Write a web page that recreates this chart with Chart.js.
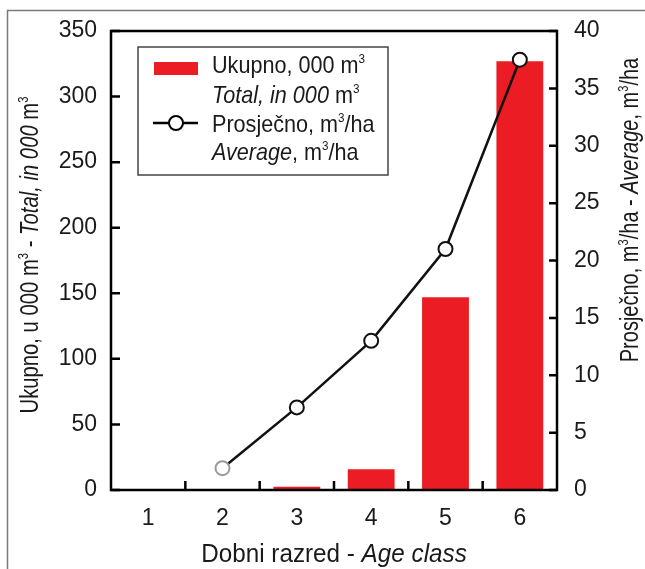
<!DOCTYPE html>
<html>
<head>
<meta charset="utf-8">
<script src="https://cdn.jsdelivr.net/npm/chart.js@4.4.1/dist/chart.umd.min.js"></script>
<style>
  html, body { margin: 0; padding: 0; background: #fff; }
  canvas { display: block; }
</style>
</head>
<body>
<canvas id="chart" width="645" height="569"></canvas>
<script>
// Dobni razred - Age class
const ageClasses = ["1", "2", "3", "4", "5", "6"];
// Ukupno, 000 m3 - Total, in 000 m3
const totalVolume = [0, 0, 2.5, 15.8, 147, 327];
// Prosječno, m3/ha - Average, m3/ha
const averageVolume = [null, 1.9, 7.2, 13.0, 21.0, 37.5];

const leftAxisMax = 350;
const leftAxisStep = 50;
const rightAxisMax = 40;
const rightAxisStep = 5;

const SANS = '"Liberation Sans", Arial, sans-serif';
const INK = "#1a1a1a";
const RED = "#ec1c24";

function fontFor(part, size) {
  const s = part.sup ? Math.round(size * 0.55) : size;
  return (part.it ? "italic " : "") + s + "px " + SANS;
}

// draws mixed normal / italic / superscript text, hs squeezes it horizontally
function drawRich(ctx, parts, x, y, size, align, hs = 1) {
  ctx.save();
  ctx.translate(x, y);
  ctx.scale(hs, 1);
  ctx.textBaseline = "alphabetic";
  ctx.textAlign = "left";
  ctx.fillStyle = INK;
  let w = 0;
  for (const p of parts) {
    ctx.font = fontFor(p, size);
    w += ctx.measureText(p.t).width;
  }
  let cx = align === "center" ? -w / 2 : 0;
  for (const p of parts) {
    ctx.font = fontFor(p, size);
    ctx.fillText(p.t, cx, p.sup ? -size * 0.42 : 0);
    cx += ctx.measureText(p.t).width;
  }
  ctx.restore();
}

const leftTitle = [
  { t: "Ukupno, u 000 m" }, { t: "3", sup: true }, { t: " - " },
  { t: "Total, in 000", it: true }, { t: " m" }, { t: "3", sup: true },
];
const rightTitle = [
  { t: "Prosječno, m" }, { t: "3", sup: true }, { t: "/ha - " },
  { t: "Average", it: true }, { t: ", m" }, { t: "3", sup: true }, { t: "/ha" },
];
const bottomTitle = [{ t: "Dobni razred - " }, { t: "Age class", it: true }];

const legendLines = [
  [{ t: "Ukupno, 000 m" }, { t: "3", sup: true }],
  [{ t: "Total, in 000", it: true }, { t: " m" }, { t: "3", sup: true }],
  [{ t: "Prosječno, m" }, { t: "3", sup: true }, { t: "/ha" }],
  [{ t: "Average", it: true }, { t: ", m" }, { t: "3", sup: true }, { t: "/ha" }],
];

const decorations = {
  id: "decorations",
  beforeDraw(chart) {
    const ctx = chart.ctx;
    ctx.save();
    ctx.fillStyle = "#fff";
    ctx.fillRect(0, 0, chart.width, chart.height);
    ctx.strokeStyle = "#7a7a7a";
    ctx.lineWidth = 1.5;
    ctx.strokeRect(7.5, 10.5, chart.width, chart.height);
    ctx.restore();
  },
  afterDatasetsDraw(chart) {
    const ctx = chart.ctx;
    const ca = chart.chartArea;
    const x = chart.scales.x;
    const y = chart.scales.y;
    const y2 = chart.scales.y2;
    ctx.save();
    ctx.strokeStyle = "#000";
    ctx.lineWidth = 2.5;
    ctx.strokeRect(ca.left, ca.top, ca.right - ca.left, ca.bottom - ca.top);
    ctx.beginPath();
    y.ticks.forEach((t) => {
      const py = y.getPixelForValue(t.value);
      ctx.moveTo(ca.left, py);
      ctx.lineTo(ca.left + 9, py);
    });
    y2.ticks.forEach((t) => {
      const py = y2.getPixelForValue(t.value);
      ctx.moveTo(ca.right, py);
      ctx.lineTo(ca.right - 8, py);
    });
    for (let i = 0; i < ageClasses.length - 1; i++) {
      const px = (x.getPixelForValue(i) + x.getPixelForValue(i + 1)) / 2;
      ctx.moveTo(px, ca.bottom);
      ctx.lineTo(px, ca.bottom - 9);
    }
    ctx.stroke();
    ctx.restore();
  },
  afterDraw(chart) {
    const ctx = chart.ctx;
    const ca = chart.chartArea;

    // axis titles
    drawRich(ctx, bottomTitle, (ca.left + ca.right) / 2, ca.bottom + 72, 25, "center", 0.97);
    ctx.save();
    ctx.translate(38, ca.top + 224);
    ctx.rotate(-Math.PI / 2);
    drawRich(ctx, leftTitle, 0, 0, 25, "center", 0.81);
    ctx.restore();
    ctx.save();
    ctx.translate(638, ca.top + 179);
    ctx.rotate(-Math.PI / 2);
    drawRich(ctx, rightTitle, 0, 0, 25, "center", 0.8);
    ctx.restore();

    // legend
    const bx = ca.left + 27;
    const by = ca.top + 16;
    ctx.save();
    ctx.fillStyle = "#fff";
    ctx.fillRect(bx, by, 250, 128);
    ctx.strokeStyle = "#444";
    ctx.lineWidth = 1.5;
    ctx.strokeRect(bx, by, 250, 128);
    ctx.fillStyle = RED;
    ctx.fillRect(bx + 16, by + 15, 44, 13);
    ctx.strokeStyle = "#000";
    ctx.lineWidth = 2.5;
    ctx.beginPath();
    ctx.moveTo(bx + 15, by + 76);
    ctx.lineTo(bx + 60, by + 76);
    ctx.stroke();
    ctx.fillStyle = "#fff";
    ctx.lineWidth = 2;
    ctx.beginPath();
    ctx.arc(bx + 38, by + 76, 7, 0, Math.PI * 2);
    ctx.fill();
    ctx.stroke();
    ctx.restore();
    const baselines = [26, 56, 85, 113];
    legendLines.forEach((line, i) => {
      drawRich(ctx, line, bx + 74, by + baselines[i], 24, "left", 0.9);
    });
  },
};

new Chart(document.getElementById("chart").getContext("2d"), {
  data: {
    labels: ageClasses,
    datasets: [
      {
        type: "line",
        label: "Prosječno, m3/ha",
        data: averageVolume,
        yAxisID: "y2",
        order: 0,
        borderColor: "#111",
        borderWidth: 2.5,
        pointRadius: 7,
        pointBorderWidth: 2,
        pointBackgroundColor: "#fff",
        pointBorderColor: ["#111", "#9a9a9a", "#111", "#111", "#111", "#111"],
        spanGaps: false,
      },
      {
        type: "bar",
        label: "Ukupno, 000 m3",
        data: totalVolume,
        yAxisID: "y",
        order: 1,
        backgroundColor: RED,
        barPercentage: 0.63,
        categoryPercentage: 1,
      },
    ],
  },
  options: {
    responsive: false,
    animation: false,
    layout: { padding: { top: 31, left: 0, right: 0, bottom: 0 } },
    plugins: {
      legend: { display: false },
      tooltip: { enabled: false },
    },
    scales: {
      x: {
        grid: { display: false, drawTicks: false },
        border: { display: false },
        ticks: { color: INK, font: { family: SANS, size: 23 }, padding: 15 },
        afterFit: (s) => { s.height = 79; },
      },
      y: {
        position: "left",
        min: 0,
        max: leftAxisMax,
        grid: { display: false, drawTicks: false },
        border: { display: false },
        ticks: { stepSize: leftAxisStep, color: INK, font: { family: SANS, size: 23 }, padding: 14 },
        afterFit: (s) => { s.width = 111; },
      },
      y2: {
        position: "right",
        min: 0,
        max: rightAxisMax,
        grid: { display: false, drawTicks: false },
        border: { display: false },
        ticks: { stepSize: rightAxisStep, color: INK, font: { family: SANS, size: 23 }, padding: 17 },
        afterFit: (s) => { s.width = 88; },
      },
    },
  },
  plugins: [decorations],
});
</script>
</body>
</html>
